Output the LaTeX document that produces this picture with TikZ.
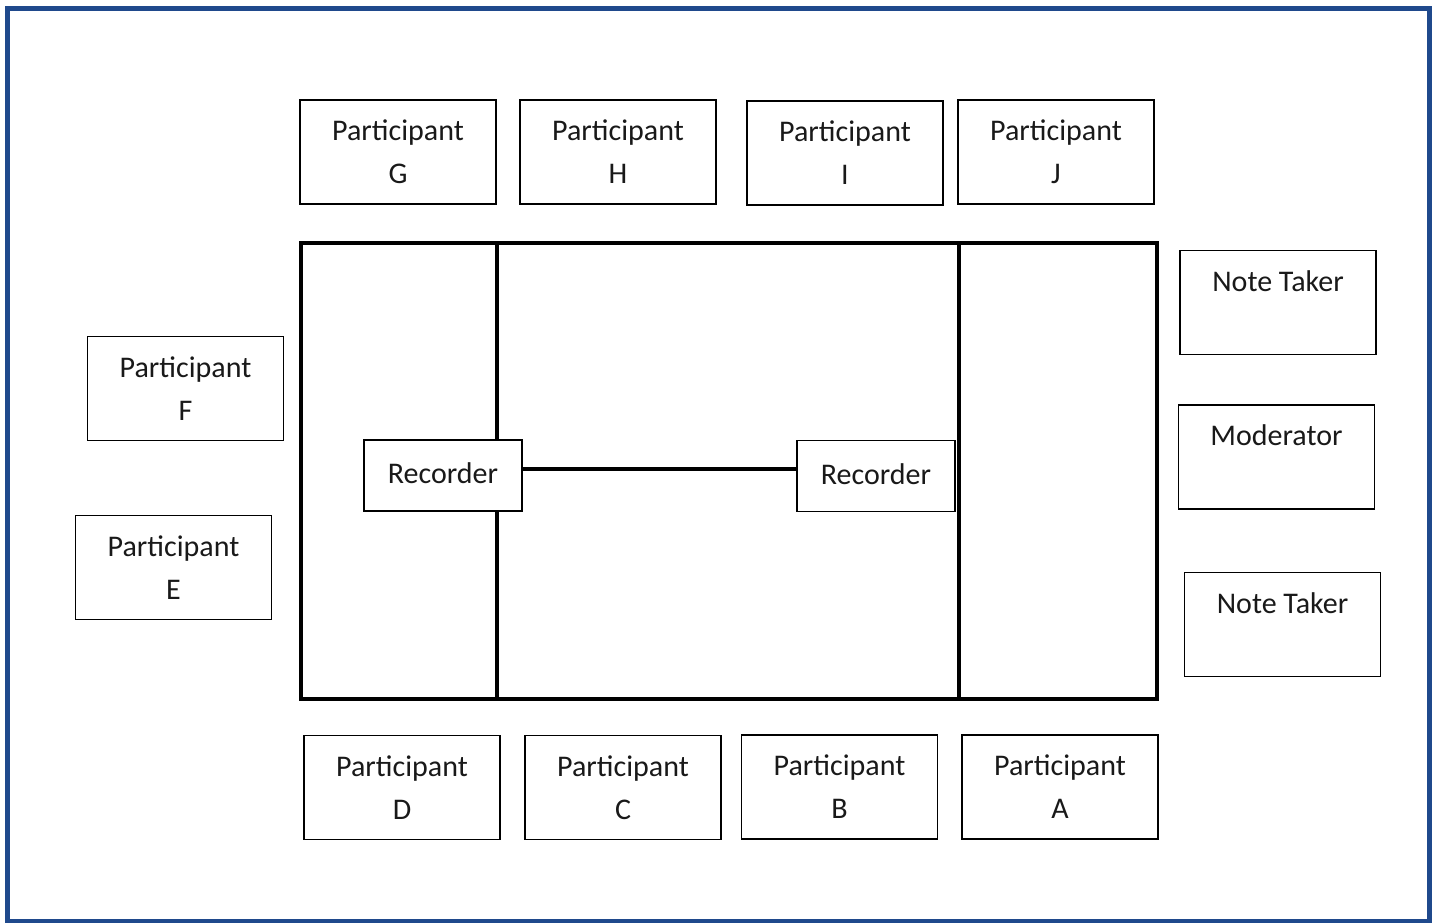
\documentclass[tikz,border=0pt]{standalone}
\usepackage{fontspec}
\setmainfont{Carlito}
\definecolor{frameblue}{RGB}{31,73,140}
\begin{document}
\begin{tikzpicture}[x=1pt,y=-1pt,
  pbox/.style={draw, line width=1.6pt, minimum width=196pt, minimum height=104pt,
    inner sep=0pt, align=center, font=\fontsize{30}{43}\selectfont, text=black!90},
  recbox/.style={draw, fill=white, line width=1.6pt, minimum width=158pt, minimum height=71pt,
    inner sep=0pt, font=\fontsize{30}{43}\selectfont, text=black!90},
  tablepart/.style={draw, line width=4.5pt, inner sep=0pt},
  link/.style={line width=4.2pt}]
\useasboundingbox (0,0) rectangle (1437,923);
\draw[frameblue, line width=5pt] (7,9) rectangle (1429,921);
% table
\node[tablepart, minimum width=196pt, minimum height=456pt] (tabL) at (399,471) {};
\node[tablepart, minimum width=462pt, minimum height=456pt] (tabM) at (728,471) {};
\node[tablepart, minimum width=198pt, minimum height=456pt] (tabR) at (1058,471) {};
% recorders
\node[recbox] (R1) at (443,475.5) {\raisebox{4pt}{Recorder}};
\node[recbox] (R2) at (876,476) {\raisebox{4pt}{Recorder}};
\draw[link] ([yshift=6.5pt]R1.east) -- ([yshift=6.5pt]R1.east -| R2.west);
% top participants
\node[pbox] (G) at (398,152) {Participant\\G};
\node[pbox] (H) at (618,152) {Participant\\H};
\node[pbox] (I) at (845,153) {Participant\\I};
\node[pbox] (J) at (1056,152) {Participant\\J};
% left participants
\node[pbox] (F) at (185.5,388.5) {Participant\\F};
\node[pbox] (E) at (173.5,567.5) {Participant\\E};
% bottom participants
\node[pbox] (D) at (402,787.5) {Participant\\D};
\node[pbox] (C) at (623,787.5) {Participant\\C};
\node[pbox] (B) at (839.5,787) {Participant\\B};
\node[pbox] (A) at (1060,787) {Participant\\A};
% right side
\node[pbox] (NT1) at (1278,302.5) {Note Taker\\\mbox{}};
\node[pbox] (Mod) at (1276.5,457) {Moderator\\\mbox{}};
\node[pbox] (NT2) at (1282.5,624.5) {Note Taker\\\mbox{}};
\end{tikzpicture}
\end{document}
